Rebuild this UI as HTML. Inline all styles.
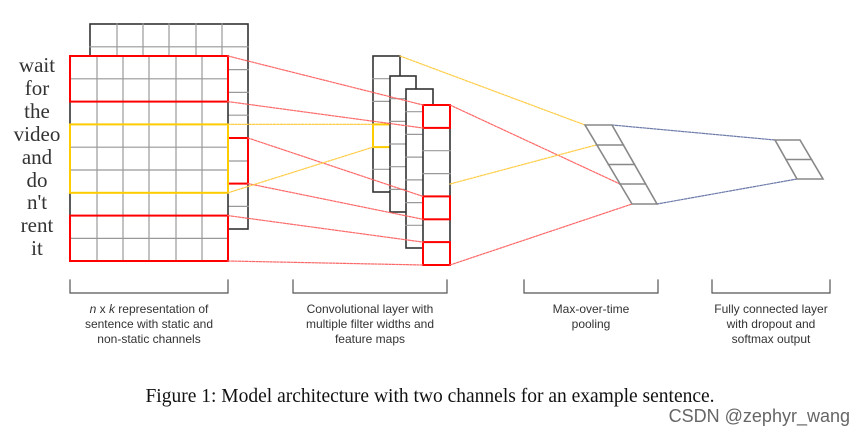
<!DOCTYPE html>
<html><head><meta charset="utf-8"><style>
html,body{margin:0;padding:0;background:#fff;}
svg{display:block;}
</style></head><body>
<svg width="865" height="434" viewBox="0 0 865 434" xmlns="http://www.w3.org/2000/svg">
<g fill="none" stroke-linecap="square">
<rect x="90" y="24" width="158" height="205" fill="#fff" stroke="#333" stroke-width="1.6"/>
<g stroke="#999" stroke-width="1.2">
<line x1="90" y1="46.8" x2="248" y2="46.8"/>
<line x1="117" y1="24" x2="117" y2="56"/><line x1="143" y1="24" x2="143" y2="56"/><line x1="169" y1="24" x2="169" y2="56"/><line x1="196" y1="24" x2="196" y2="56"/><line x1="222" y1="24" x2="222" y2="229"/>
<line x1="228" y1="69.6" x2="248" y2="69.6"/><line x1="228" y1="92.4" x2="248" y2="92.4"/><line x1="228" y1="115.2" x2="248" y2="115.2"/><line x1="228" y1="161" x2="248" y2="161"/><line x1="228" y1="206.4" x2="248" y2="206.4"/>
</g>
<rect x="228" y="138" width="20" height="45.6" stroke="#f00" stroke-width="2"/>
<rect x="70" y="56" width="158" height="205" fill="#fff" stroke="#333" stroke-width="1.6"/>
<g stroke="#999" stroke-width="1.2">
<line x1="97" y1="56" x2="97" y2="261"/><line x1="123" y1="56" x2="123" y2="261"/><line x1="149" y1="56" x2="149" y2="261"/><line x1="176" y1="56" x2="176" y2="261"/><line x1="202" y1="56" x2="202" y2="261"/>
<line x1="70" y1="78.8" x2="228" y2="78.8"/><line x1="70" y1="101.6" x2="228" y2="101.6"/><line x1="70" y1="124.4" x2="228" y2="124.4"/><line x1="70" y1="147.2" x2="228" y2="147.2"/><line x1="70" y1="170" x2="228" y2="170"/><line x1="70" y1="192.8" x2="228" y2="192.8"/><line x1="70" y1="215.6" x2="228" y2="215.6"/><line x1="70" y1="238.4" x2="228" y2="238.4"/>
</g>
<rect x="70" y="56" width="158" height="45.6" stroke="#f00" stroke-width="2"/>
<rect x="70" y="215.6" width="158" height="45.4" stroke="#f00" stroke-width="2"/>
<rect x="70" y="124.4" width="158" height="68.4" stroke="#fc0" stroke-width="2"/>
<rect x="373" y="56" width="27" height="136" fill="#fff" stroke="#333" stroke-width="1.6"/>
<g stroke="#999" stroke-width="1.2"><line x1="373" y1="78.7" x2="400" y2="78.7"/><line x1="373" y1="101.4" x2="400" y2="101.4"/><line x1="373" y1="169.3" x2="400" y2="169.3"/></g>
<rect x="373" y="124.4" width="27" height="22.7" stroke="#fc0" stroke-width="2"/>
<rect x="390" y="76" width="26" height="136" fill="#fff" stroke="#333" stroke-width="1.6"/>
<g stroke="#999" stroke-width="1.2"><line x1="390" y1="98.7" x2="416" y2="98.7"/><line x1="390" y1="121.4" x2="416" y2="121.4"/><line x1="390" y1="144" x2="416" y2="144"/><line x1="390" y1="166.7" x2="416" y2="166.7"/><line x1="390" y1="189.4" x2="416" y2="189.4"/></g>
<rect x="406" y="89" width="27" height="159" fill="#fff" stroke="#333" stroke-width="1.6"/>
<g stroke="#999" stroke-width="1.2"><line x1="406" y1="111.7" x2="433" y2="111.7"/><line x1="406" y1="134.4" x2="433" y2="134.4"/><line x1="406" y1="157.1" x2="433" y2="157.1"/><line x1="406" y1="179.9" x2="433" y2="179.9"/><line x1="406" y1="202.6" x2="433" y2="202.6"/><line x1="406" y1="225.3" x2="433" y2="225.3"/></g>
<rect x="423" y="105" width="27" height="160" fill="#fff" stroke="#333" stroke-width="1.6"/>
<g stroke="#999" stroke-width="1.2"><line x1="423" y1="150.7" x2="450" y2="150.7"/><line x1="423" y1="173.6" x2="450" y2="173.6"/><line x1="423" y1="219.3" x2="450" y2="219.3"/></g>
<rect x="423" y="105" width="27" height="22.9" stroke="#f00" stroke-width="2"/>
<rect x="423" y="196.4" width="27" height="22.9" stroke="#f00" stroke-width="2"/>
<rect x="423" y="242.1" width="27" height="22.9" stroke="#f00" stroke-width="2"/>
<g stroke="#f66" stroke-width="1.2" stroke-dasharray="2,1.5">
<line x1="228" y1="56" x2="423" y2="105"/>
<line x1="228" y1="101.6" x2="423" y2="128"/>
<line x1="248" y1="138" x2="423" y2="196.4"/>
<line x1="248" y1="183.6" x2="423" y2="219.3"/>
<line x1="228" y1="215.6" x2="423" y2="242.1"/>
<line x1="228" y1="261" x2="423" y2="265"/>
<line x1="450" y1="105" x2="620" y2="184"/>
<line x1="450" y1="265" x2="632" y2="204"/>
</g>
<g stroke="#fc4" stroke-width="1.2" stroke-dasharray="2,1.5">
<line x1="228" y1="124.4" x2="373" y2="124.4"/>
<line x1="228" y1="192.8" x2="373" y2="147.1"/>
<line x1="400" y1="56" x2="585" y2="125"/>
<line x1="450" y1="184" x2="596" y2="145"/>
</g>
<g stroke="#6a78a8" stroke-width="1.2" stroke-dasharray="2,1.5">
<line x1="612" y1="125" x2="775" y2="140"/>
<line x1="657" y1="204" x2="797" y2="179"/>
</g>
<g stroke="#888" stroke-width="1.6">
<polygon points="585,125 612,125 657,204 632,204"/>
<line x1="596.4" y1="145" x2="623.4" y2="145"/><line x1="608.3" y1="164.5" x2="634.5" y2="164.5"/><line x1="619.7" y1="184" x2="645.6" y2="184"/>
<polygon points="775,140 800,140 823,179 797,179"/>
<line x1="786" y1="159.5" x2="811.5" y2="159.5"/>
</g>
<g stroke="#555" stroke-width="1.2">
<polyline points="70,280 70,293 228,293 228,280"/>
<polyline points="293,280 293,293 447,293 447,280"/>
<polyline points="524,280 524,293 658,293 658,280"/>
<polyline points="712,280 712,293 830,293 830,280"/>
</g>
</g>
<g font-family="Liberation Serif, serif" font-size="21" fill="#333" text-anchor="middle">
<text x="37" y="72">wait</text><text x="37" y="95">for</text><text x="37" y="118">the</text><text x="37" y="141">video</text><text x="37" y="164">and</text><text x="37" y="187">do</text><text x="37" y="209">n't</text><text x="37" y="232">rent</text><text x="37" y="255">it</text>
</g>
<g font-family="Liberation Sans, sans-serif" font-size="12" fill="#333" text-anchor="middle">
<text x="149" y="313"><tspan font-style="italic">n</tspan> x <tspan font-style="italic">k</tspan> representation of</text>
<text x="149" y="328">sentence with static and</text>
<text x="149" y="343">non-static channels</text>
<text x="370" y="313">Convolutional layer with</text>
<text x="370" y="328">multiple filter widths and</text>
<text x="370" y="343">feature maps</text>
<text x="591" y="313">Max-over-time</text>
<text x="591" y="328">pooling</text>
<text x="771" y="313">Fully connected layer</text>
<text x="771" y="328">with dropout and</text>
<text x="771" y="343">softmax output</text>
</g>
<text x="430" y="402" font-family="Liberation Serif, serif" font-size="19.5" fill="#111" text-anchor="middle">Figure 1: Model architecture with two channels for an example sentence.</text>
<text x="850" y="422" font-family="Liberation Sans, sans-serif" font-size="18" fill="#666" text-anchor="end">CSDN @zephyr_wang</text>
</svg>
</body></html>
